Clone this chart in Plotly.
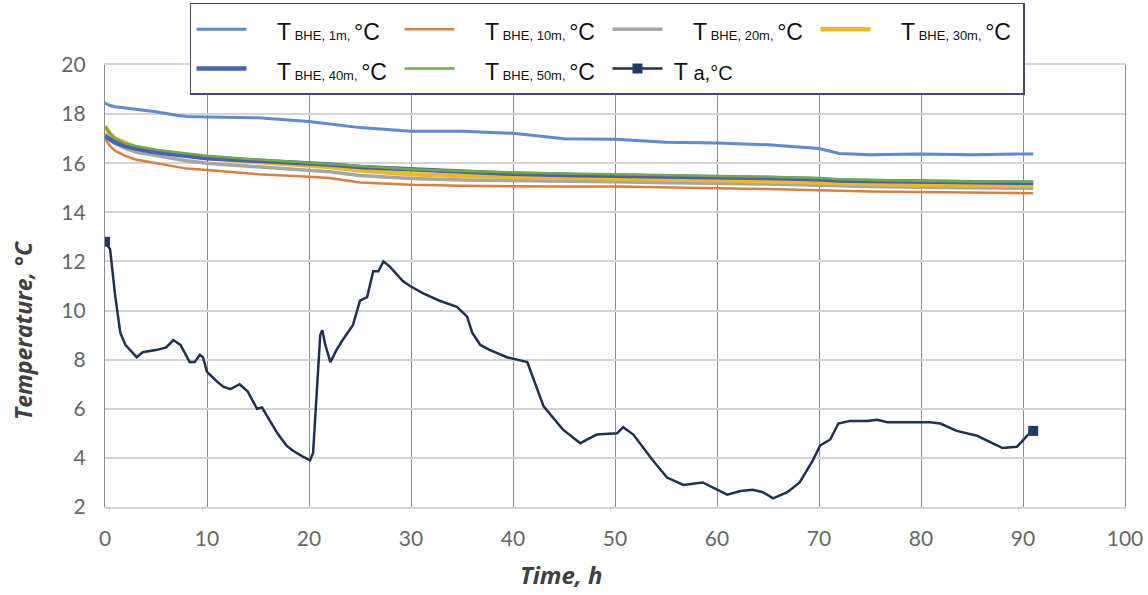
import plotly.graph_objects as go

# ---------------- data ----------------
bhe_x = [0, 0.5, 1, 2, 3, 5, 7, 8, 10, 15, 20, 22, 25, 30, 35, 40, 45, 50, 55, 60, 65, 70, 72, 75, 80, 85, 91]
t_1m = [18.45, 18.35, 18.3, 18.25, 18.2, 18.1, 17.95, 17.9, 17.88, 17.85, 17.7, 17.6, 17.45, 17.3, 17.3, 17.22,
        17.0, 16.98, 16.85, 16.82, 16.75, 16.6, 16.4, 16.35, 16.38, 16.35, 16.38]
t_10m = [17.0, 16.7, 16.5, 16.3, 16.15, 16.0, 15.85, 15.78, 15.72, 15.55, 15.45, 15.4, 15.22, 15.12, 15.08, 15.05,
         15.05, 15.05, 15.0, 14.98, 14.95, 14.92, 14.88, 14.85, 14.82, 14.8, 14.78]
t_20m = [17.2, 16.95, 16.8, 16.6, 16.45, 16.3, 16.15, 16.1, 16.0, 15.85, 15.72, 15.65, 15.5, 15.38, 15.32, 15.3,
         15.27, 15.25, 15.2, 15.18, 15.15, 15.1, 15.07, 15.05, 15.02, 15.0, 14.98]
t_30m = [17.5, 17.2, 17.0, 16.8, 16.65, 16.5, 16.38, 16.32, 16.22, 16.05, 15.92, 15.85, 15.7, 15.55, 15.48, 15.45,
         15.42, 15.4, 15.35, 15.3, 15.27, 15.22, 15.18, 15.15, 15.12, 15.1, 15.08]
t_40m = [17.1, 16.95, 16.85, 16.7, 16.6, 16.45, 16.35, 16.3, 16.2, 16.1, 16.0, 15.95, 15.85, 15.75, 15.65, 15.57,
         15.52, 15.5, 15.47, 15.45, 15.4, 15.35, 15.3, 15.28, 15.25, 15.23, 15.2]
t_50m = [17.5, 17.2, 17.0, 16.8, 16.7, 16.55, 16.45, 16.4, 16.3, 16.15, 16.02, 15.98, 15.88, 15.75, 15.68, 15.62,
         15.58, 15.55, 15.52, 15.5, 15.45, 15.4, 15.35, 15.32, 15.28, 15.26, 15.25]

ta_x = [0, 0.5, 1.0, 1.5, 2.0, 3.1, 3.7, 5.1, 6.0, 6.7, 7.4, 8.3, 8.8, 9.3, 9.6, 10.0, 11.0, 11.6, 12.3, 13.2,
        14.0, 14.9, 15.4, 15.9, 16.9, 17.8, 18.4, 19.4, 20.1, 20.4, 21.1, 21.3, 21.6, 22.1, 22.7, 23.3, 24.3, 25.0,
        25.7, 26.3, 26.8, 27.3, 27.9, 29.2, 29.9, 31.2, 32.8, 34.5, 35.5, 36.0, 36.8, 37.7, 39.4, 41.4, 43.0, 44.9,
        46.6, 47.3, 48.2, 50.2, 50.8, 51.8, 53.7, 55.1, 56.7, 58.6, 59.6, 61.0, 62.3, 63.5, 64.5, 65.5, 66.9, 68.1,
        69.4, 70.1, 71.1, 71.9, 73.0, 74.7, 75.7, 76.7, 78.3, 80.9, 81.9, 83.5, 85.5, 86.8, 88.0, 89.4, 90.4, 91.0]
ta_y = [12.8, 12.5, 10.6, 9.1, 8.6, 8.1, 8.3, 8.4, 8.5, 8.8, 8.6, 7.9, 7.9, 8.2, 8.1, 7.5, 7.1, 6.9, 6.8, 7.0,
        6.7, 6.0, 6.05, 5.7, 5.0, 4.5, 4.3, 4.05, 3.9, 4.2, 9.0, 9.2, 8.6, 7.9, 8.4, 8.8, 9.4, 10.4,
        10.55, 11.6, 11.6, 12.0, 11.8, 11.2, 11.0, 10.7, 10.4, 10.15, 9.75, 9.1, 8.6, 8.4, 8.1, 7.9, 6.1, 5.15,
        4.6, 4.75, 4.95, 5.0, 5.25, 4.95, 3.9, 3.2, 2.9, 3.0, 2.8, 2.5, 2.65, 2.7, 2.6, 2.35, 2.6, 3.0,
        3.9, 4.5, 4.75, 5.4, 5.5, 5.5, 5.55, 5.45, 5.45, 5.45, 5.4, 5.1, 4.9, 4.65, 4.4, 4.45, 4.9, 5.1]

x_ticks = [0, 10, 20, 30, 40, 50, 60, 70, 80, 90, 100]
y_ticks = [2, 4, 6, 8, 10, 12, 14, 16, 18, 20]


def lbl(depth):
    return ("<span style='font-size:23px'>&nbsp;&nbsp;&nbsp;&nbsp;T</span><span style='font-size:13px'> BHE, "
            + depth + ", </span><span style='font-size:23px'>°C</span>")


series = [
    (lbl("1m"), t_1m, "#5B8BD3", 3),
    (lbl("10m"), t_10m, "#DB803A", 2.5),
    (lbl("20m"), t_20m, "#A5A5A5", 3.5),
    (lbl("30m"), t_30m, "#F2B81A", 4.5),
    (lbl("40m"), t_40m, "#4361B8", 4.5),
    (lbl("50m"), t_50m, "#6FAA48", 2.5),
]

fig = go.Figure()
for name, ys, color, w in series:
    fig.add_trace(go.Scatter(x=bhe_x, y=ys, mode="lines", name=name,
                             line=dict(color=color, width=w)))

fig.add_trace(go.Scatter(
    x=ta_x, y=ta_y, mode="lines+markers",
    name="<span style='font-size:23px'>&nbsp;T</span><span style='font-size:20px'> a,°C</span>",
    line=dict(color="#1F3050", width=2.5),
    marker=dict(symbol="square", size=10, color="#1F3A6B"),
    selectedpoints=[0, len(ta_x) - 1],
    selected=dict(marker=dict(opacity=1)),
    unselected=dict(marker=dict(opacity=0)),
))

fig.update_layout(
    width=1148, height=595,
    margin=dict(l=105, r=23, t=65, b=88, autoexpand=False),
    paper_bgcolor="white", plot_bgcolor="white",
    showlegend=True,
    legend=dict(
        orientation="h", x=0.0833, xanchor="left", y=1.1403, yanchor="top",
        entrywidth=143, entrywidthmode="pixels",
        bgcolor="white", bordercolor="#4F3F73", borderwidth=1.5,
        font=dict(family="Liberation Sans Narrow, Arial Narrow, sans-serif", size=28, color="#111111"),
        itemwidth=50,
    ),
    xaxis=dict(
        range=[0, 100], tickvals=x_ticks, ticktext=[str(v) for v in x_ticks],
        showgrid=True, gridcolor="#8C8C8C", gridwidth=1.3,
        zeroline=False, showline=True, linecolor="#D4D4D4", linewidth=2, mirror=True,
        ticks="", ticklabelstandoff=12,
        tickfont=dict(family="Lato, sans-serif", size=21, color="#666666"),
    ),
    yaxis=dict(
        range=[2, 20], tickvals=y_ticks, ticktext=[str(v) for v in y_ticks],
        showgrid=True, gridcolor="#D4D4D4", gridwidth=2,
        zeroline=False, showline=True, linecolor="#8C8C8C", linewidth=1.3, mirror=True,
        ticks="", ticklabelstandoff=14,
        tickfont=dict(family="Lato, sans-serif", size=21, color="#666666"),
    ),
    annotations=[
        dict(text="<b><i>Temperature, °C</i></b>", xref="paper", yref="paper", x=-0.0804, y=0.4005,
             xanchor="center", yanchor="middle", textangle=-90, showarrow=False,
             font=dict(family="Open Sans, sans-serif", size=23, color="#404040")),
        dict(text="<b><i>Time, h</i></b>", xref="paper", yref="paper", x=0.448, y=-0.1538,
             xanchor="center", yanchor="middle", showarrow=False,
             font=dict(family="Open Sans, sans-serif", size=24, color="#404040")),
    ],
)

fig.write_html("out.html")
